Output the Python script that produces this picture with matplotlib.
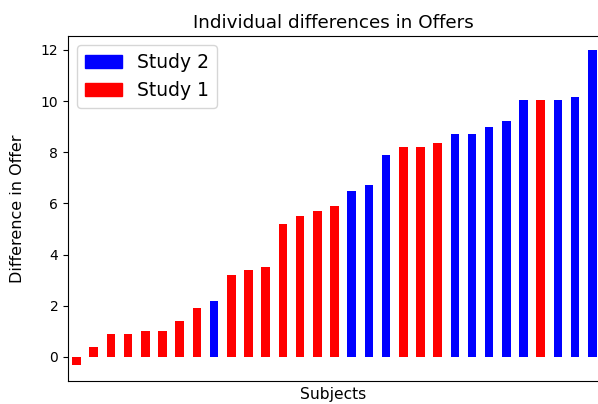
import matplotlib
matplotlib.use("Agg")
import matplotlib.pyplot as plt
from matplotlib.patches import Patch

# sorted per-subject difference in offer, with the study each subject came from
diffs = [-0.3, 0.4, 0.9, 0.9, 1.0, 1.0, 1.4, 1.9, 2.2, 3.2, 3.4, 3.5, 5.2, 5.5, 5.7, 5.9,
         6.5, 6.7, 7.9, 8.2, 8.2, 8.35, 8.7, 8.7, 9.0, 9.2, 10.05, 10.05, 10.05, 10.15, 12.0]
study = [1, 1, 1, 1, 1, 1, 1, 1, 2, 1, 1, 1, 1, 1, 1, 1,
         2, 2, 2, 1, 1, 1, 2, 2, 2, 2, 2, 1, 2, 2, 2]

colors = {1: "red", 2: "blue"}

fig = plt.figure(figsize=(5.98, 4.04), dpi=100)
ax = fig.add_axes([68 / 598, 23 / 404, 530 / 598, 345 / 404])

x = list(range(len(diffs)))
ax.bar(x, diffs, width=0.5, color=[colors[s] for s in study])

ax.set_xlim(-0.5, 30.33)
ax.set_ylim(-0.94, 12.54)
ax.set_xticks([])
ax.spines["right"].set_visible(False)

ax.set_title("Individual differences in Offers", fontsize=13.2)
ax.set_xlabel("Subjects", fontsize=11.2)
ax.set_ylabel("Difference in Offer", fontsize=11.5, labelpad=11)

handles = [Patch(color="blue", label="Study 2"), Patch(color="red", label="Study 1")]
ax.legend(handles=handles, loc="upper left", fontsize=13.5)

fig.savefig("out.png", dpi=100)
